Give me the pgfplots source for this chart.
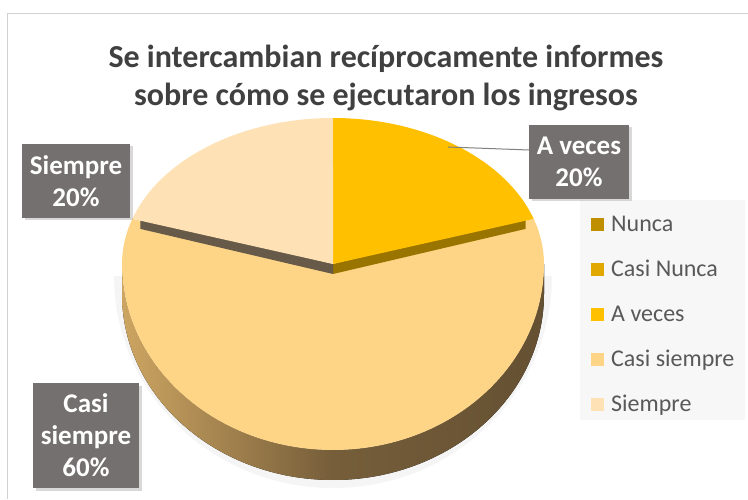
\documentclass[border=0pt]{standalone}
\usepackage{pgfplots}
\pgfplotsset{compat=1.18}
\usepackage{pgfplotstable}
\usepackage{fontspec}
\setmainfont{Carlito}
\usetikzlibrary{shadows}
\definecolor{cNunca}{RGB}{191,143,0}
\definecolor{cCasiNunca}{RGB}{224,168,0}
\definecolor{cAveces}{RGB}{255,192,0}
\definecolor{cCasiS}{RGB}{254,213,135}
\definecolor{cSiempre}{RGB}{254,226,181}
\definecolor{cutA}{RGB}{153,117,0}
\definecolor{cutS}{RGB}{103,90,72}
\definecolor{sideL}{RGB}{205,165,98}
\definecolor{sideM}{RGB}{118,94,58}
\definecolor{sideR}{RGB}{100,80,50}
\definecolor{labbg}{RGB}{117,112,112}
\definecolor{titlec}{RGB}{64,64,64}
\definecolor{legtext}{RGB}{89,89,89}
\definecolor{legbg}{RGB}{247,247,247}
\definecolor{borderc}{RGB}{210,210,210}
\pgfplotstableread{
cat value
Nunca 0
CasiNunca 0
Aveces 20
CasiSiempre 60
Siempre 20
}\piedata
\pgfplotstablegetelem{0}{value}\of\piedata\let\vN\pgfplotsretval
\pgfplotstablegetelem{1}{value}\of\piedata\let\vCN\pgfplotsretval
\pgfplotstablegetelem{2}{value}\of\piedata\let\vA\pgfplotsretval
\pgfplotstablegetelem{3}{value}\of\piedata\let\vCS\pgfplotsretval
\pgfplotstablegetelem{4}{value}\of\piedata\let\vS\pgfplotsretval
\pgfmathsetmacro\tot{\vN+\vCN+\vA+\vCS+\vS}
\pgfmathsetmacro\unit{360/\tot}
\pgfmathsetmacro\aA{90-\unit*(\vN+\vCN)}
\pgfmathsetmacro\aB{\aA-\unit*\vA}
\pgfmathsetmacro\aC{\aB-\unit*\vCS}
\pgfmathsetmacro\aD{\aC-\unit*\vS}
\def\cx{333}\def\cy{235}\def\rx{211}\def\ru{146}\def\rl{186}\def\th{30}
\begin{document}%
\begin{tikzpicture}
\begin{axis}[
  x=1pt, y=1pt, xmin=0, xmax=748, ymin=0, ymax=499,
  hide axis, clip=false,
  legend style={at={(axis cs:591,284)}, anchor=north west, draw=none, fill=none,
    inner sep=0pt, row sep=24pt, font=\fontsize{24}{28}\selectfont, text=legtext,
    nodes={inner sep=0pt, text height=16pt, text depth=5pt, anchor=west}},
  legend image code/.code={\fill[#1, draw=none] (0pt,-5pt) rectangle (13pt,8pt);},
  legend cell align=left,
  /tikz/every odd column/.append style={column sep=7pt},
]
\coordinate (bbl) at (axis cs:0,0);
\coordinate (btr) at (axis cs:748,499);
% background & border
\fill[white] (axis cs:0,0) rectangle (axis cs:748,499);
\draw[borderc, line width=1pt] (axis cs:7,0) -- (axis cs:7,485) -- (axis cs:748,485);
% legend background
\fill[legbg] (axis cs:580,79) rectangle (axis cs:745,299);
% soft shadow
\fill[black, opacity=0.04] (axis cs:{\cx-\rx-8},{\cy-12}) arc[start angle=180,end angle=360,x radius={\rx+8},y radius={\rl+\th-4}] -- cycle;
% side of pie
\fill[left color=sideL, right color=sideR, middle color=sideM]
  (axis cs:{\cx-\rx},{\cy}) arc[start angle=180,end angle=360,x radius=\rx,y radius=\rl]
  -- (axis cs:{\cx+\rx},{\cy-\th}) arc[start angle=0,end angle=-180,x radius=\rx,y radius=\rl] -- cycle;
% Casi siempre top
\fill[cCasiS] (axis cs:\cx,\cy) -- (axis cs:{\cx+\rx*cos(\aB)},{\cy+\ru*sin(\aB)})
  arc[start angle=\aB,end angle=0,x radius=\rx,y radius=\ru]
  arc[start angle=0,end angle=-180,x radius=\rx,y radius=\rl]
  arc[start angle=-180,end angle=\aC,x radius=\rx,y radius=\ru] -- cycle;
% cut faces
\fill[cutA] (axis cs:\cx,\cy) -- (axis cs:{\cx+\rx*cos(\aB)-8},{\cy+\ru*sin(\aB)+2})
  -- (axis cs:{\cx+\rx*cos(\aB)-8},{\cy+\ru*sin(\aB)-10}) -- (axis cs:\cx,{\cy-10}) -- cycle;
\fill[cutS] (axis cs:\cx,\cy) -- (axis cs:{\cx+\rx*cos(\aC)+8},{\cy+\ru*sin(\aC)+2})
  -- (axis cs:{\cx+\rx*cos(\aC)+8},{\cy+\ru*sin(\aC)-10}) -- (axis cs:\cx,{\cy-10}) -- cycle;
% A veces top
\fill[cAveces] (axis cs:\cx,\cy) -- (axis cs:{\cx+\rx*cos(\aA)},{\cy+\ru*sin(\aA)})
  arc[start angle=\aA,end angle=\aB,x radius=\rx,y radius=\ru] -- cycle;
% Siempre top
\fill[cSiempre] (axis cs:\cx,\cy) -- (axis cs:{\cx+\rx*cos(\aC)},{\cy+\ru*sin(\aC)})
  arc[start angle=\aC,end angle=\aD,x radius=\rx,y radius=\ru] -- cycle;
% title
\node[font=\bfseries\fontsize{32}{38}\selectfont, text=titlec, align=center] at (axis cs:386,421)
  {Se intercambian recíprocamente informes\\sobre cómo se ejecutaron los ingresos};
% leader line
\draw[gray, line width=1pt] (axis cs:448,352) -- (axis cs:529,349);
% data labels
\tikzset{lab/.style={fill=labbg, text=white, font=\bfseries\fontsize{27}{32}\selectfont, align=center,
  inner sep=0pt, drop shadow={shadow xshift=2.5pt, shadow yshift=-2.5pt, opacity=0.3}}}
\node[lab, minimum width=100pt, minimum height=74pt] at (axis cs:579,337) {A veces\\\pgfmathprint{\vA}\%};
\node[lab, minimum width=108pt, minimum height=74pt] at (axis cs:76,318) {Siempre\\\pgfmathprint{\vS}\%};
\node[lab, minimum width=106pt, minimum height=105pt] at (axis cs:86,63.5) {Casi\\siempre\\\pgfmathprint{\vCS}\%};
% legend entries
\addlegendimage{fill=cNunca}
\addlegendimage{fill=cCasiNunca}
\addlegendimage{fill=cAveces}
\addlegendimage{fill=cCasiS}
\addlegendimage{fill=cSiempre}
\legend{Nunca, Casi Nunca, A veces, Casi siempre, Siempre}
\end{axis}
\pgfresetboundingbox
\path[use as bounding box] (bbl) rectangle (btr);
\end{tikzpicture}%
\end{document}
